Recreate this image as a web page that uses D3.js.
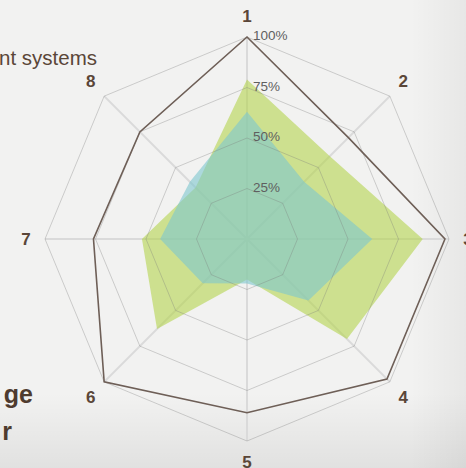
<!DOCTYPE html>
<html><head><meta charset="utf-8">
<script src="https://cdn.jsdelivr.net/npm/d3@7"></script>
<style>html,body{margin:0;padding:0;background:#f2f2f1;overflow:hidden}</style>
</head><body>
<svg id="c" width="466" height="468"></svg>
<script>
const axes = ["1","2","3","4","5","6","7","8"];
const outlineValues = [100, 71, 98, 98, 86, 100, 76, 75];
const greenValues = [79, 58, 87, 70, 20, 63, 52, 36];
const blueValues = [63, 40, 62, 43, 22, 31, 43, 40];
const ringLevels = [25, 50, 75, 100];
const ringLabels = ["25%", "50%", "75%", "100%"];

const W = 466, H = 468, cx = 247, cy = 239, R = 202;
const svg = d3.select("#c");
const defs = svg.append("defs");
const gv = defs.append("linearGradient").attr("id","gv").attr("x1",0).attr("y1",0).attr("x2",0).attr("y2",1);
gv.append("stop").attr("offset","0.84").attr("stop-color","#000").attr("stop-opacity",0);
gv.append("stop").attr("offset","1").attr("stop-color","#000").attr("stop-opacity",0.07);
const gh = defs.append("linearGradient").attr("id","gh").attr("x1",0).attr("y1",0).attr("x2",1).attr("y2",0);
gh.append("stop").attr("offset","0.88").attr("stop-color","#000").attr("stop-opacity",0);
gh.append("stop").attr("offset","1").attr("stop-color","#000").attr("stop-opacity",0.045);
svg.append("rect").attr("width",W).attr("height",H).attr("fill","#f2f2f1");
svg.append("rect").attr("width",W).attr("height",H).attr("fill","url(#gv)");
svg.append("rect").attr("width",W).attr("height",H).attr("fill","url(#gh)");

const r = d3.scaleLinear().domain([0,100]).range([0,R]);
const ang = d3.scalePoint().domain(axes).range([0, 2*Math.PI*(axes.length-1)/axes.length]);
const g = svg.append("g").attr("transform",`translate(${cx},${cy})`);
const radial = d3.lineRadial().angle((d,i)=>ang(axes[i])).radius(d=>r(d)).curve(d3.curveLinearClosed);

// spokes
g.selectAll(".spoke").data(axes).join("line")
  .attr("x1",0).attr("y1",0)
  .attr("x2",d=>r(100)*Math.sin(ang(d))).attr("y2",d=>-r(100)*Math.cos(ang(d)))
  .attr("stroke","#dadada").attr("stroke-width",2);

// fills
g.append("path").datum(greenValues).attr("d",radial).attr("fill","rgb(180,212,78)").attr("fill-opacity",0.6);
g.append("path").datum(blueValues).attr("d",radial).attr("fill","rgb(125,199,207)").attr("fill-opacity",0.6);

// rings
g.selectAll(".ring").data(ringLevels).join("path")
  .attr("d",lv=>radial(axes.map(()=>lv)))
  .attr("fill","none").attr("stroke","rgba(120,120,120,0.33)").attr("stroke-width",1);

// outline series
g.append("path").datum(outlineValues).attr("d",radial)
  .attr("fill","none").attr("stroke","#6e5f57").attr("stroke-width",1.6);

// ring labels
g.selectAll(".rl").data(ringLevels).join("text")
  .attr("x",6).attr("y",lv=>-r(lv)+3)
  .attr("font-family","Liberation Sans, Arial, sans-serif").attr("font-size",13.5)
  .attr("fill","#5f5f5f").text((lv,i)=>ringLabels[i]);

// axis labels
g.selectAll(".al").data(axes).join("text")
  .attr("x",d=>221*Math.sin(ang(d))).attr("y",d=>-223*Math.cos(ang(d)))
  .attr("dy","0.36em").attr("text-anchor","middle")
  .attr("font-family","Liberation Sans, Arial, sans-serif").attr("font-weight","bold").attr("font-size",17)
  .attr("fill","#5a4638").text(d=>d);

// cropped page text
svg.append("text").attr("x",97).attr("y",65).attr("text-anchor","end")
  .attr("font-family","Liberation Sans, Arial, sans-serif").attr("font-size",20.5)
  .attr("fill","#5a4638").text("nt systems");
svg.append("text").attr("x",33).attr("y",403).attr("text-anchor","end")
  .attr("font-family","Liberation Sans, Arial, sans-serif").attr("font-weight","bold").attr("font-size",25)
  .attr("fill","#4e3b2f").text("ge");
svg.append("text").attr("x",12).attr("y",440).attr("text-anchor","end")
  .attr("font-family","Liberation Sans, Arial, sans-serif").attr("font-weight","bold").attr("font-size",25)
  .attr("fill","#4e3b2f").text("r");
</script>
</body></html>
